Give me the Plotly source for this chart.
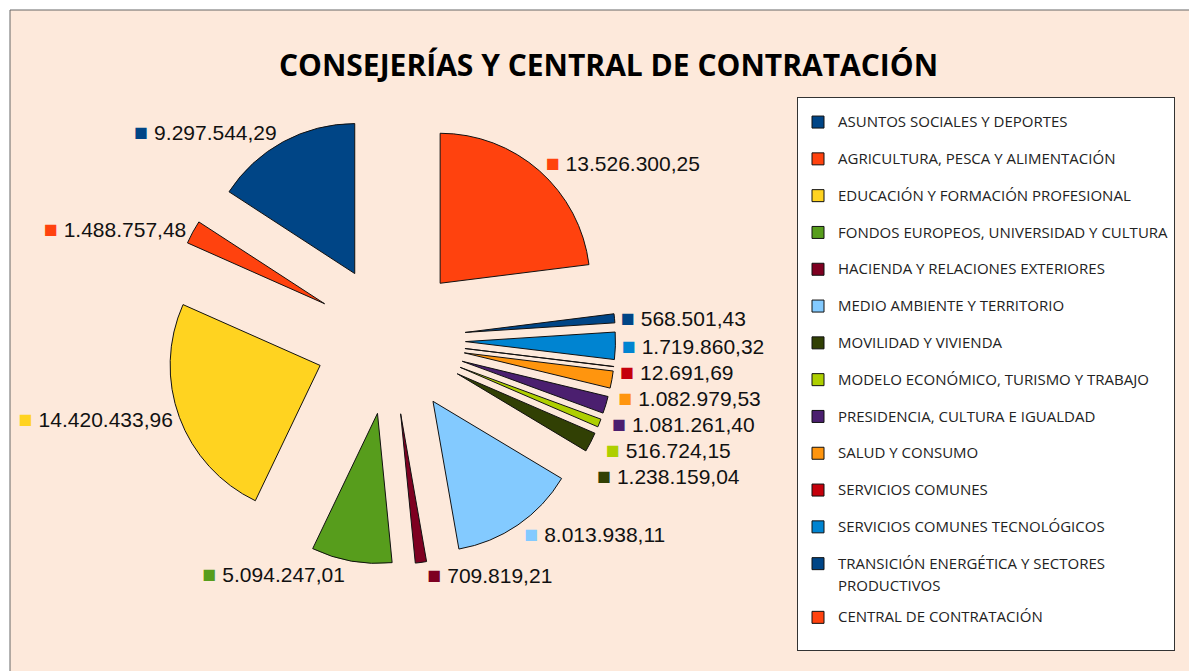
import plotly.graph_objects as go

categories = [
    "ASUNTOS SOCIALES Y DEPORTES",
    "AGRICULTURA, PESCA Y ALIMENTACIÓN",
    "EDUCACIÓN Y FORMACIÓN PROFESIONAL",
    "FONDOS EUROPEOS, UNIVERSIDAD Y CULTURA",
    "HACIENDA Y RELACIONES EXTERIORES",
    "MEDIO AMBIENTE Y TERRITORIO",
    "MOVILIDAD Y VIVIENDA",
    "MODELO ECONÓMICO, TURISMO Y TRABAJO",
    "PRESIDENCIA, CULTURA E IGUALDAD",
    "SALUD Y CONSUMO",
    "SERVICIOS COMUNES",
    "SERVICIOS COMUNES TECNOLÓGICOS",
    "TRANSICIÓN ENERGÉTICA Y SECTORES<br>PRODUCTIVOS",
    "CENTRAL DE CONTRATACIÓN",
]
values = [
    9297544.29, 1488757.48, 14420433.96, 5094247.01, 709819.21,
    8013938.11, 1238159.04, 516724.15, 1081261.40, 1082979.53,
    12691.69, 1719860.32, 568501.43, 13526300.25,
]
colors = [
    "#004586", "#FF420E", "#FFD320", "#579D1C", "#7E0021", "#83CAFF",
    "#314004", "#AECF00", "#4B1F6F", "#FF950E", "#C5000B", "#0084D1",
    "#004586", "#FF420E",
]
title_text = "CONSEJERÍAS Y CENTRAL DE CONTRATACIÓN"

W, H = 1197, 671
OFF = 8  # page body margin offset
BG = "#FDE9DB"

# first slice must start at 12 o'clock and run counterclockwise
rotation = -360.0 * values[0] / sum(values)


def legend_text(name):
    lines = name.split("<br>")
    out = [f"<span style='font-size:15px'>{lines[0]}</span>"]
    for ln in lines[1:]:
        out.append(f"<span style='font-size:15px;baseline-shift:-5px'>{ln}</span>")
    return "<br>".join(out) + "<br> "


legend_labels = [legend_text(c) for c in categories]
templates = [
    f"<span style='color:{c};fill-opacity:1;font-size:23px'>■</span>"
    f"<span style='color:#111111;fill-opacity:1'> %{{value:,.2f}}</span>"
    for c in colors
]

cx, cy, half = 390.5 - OFF, 339.5 - OFF, 225.0

fig = go.Figure(go.Pie(
    labels=legend_labels,
    values=values,
    sort=False,
    direction="counterclockwise",
    rotation=rotation,
    pull=[0.5] * len(values),
    marker=dict(colors=colors, line=dict(color="#111111", width=1)),
    textposition="outside",
    texttemplate=templates,
    textfont=dict(family="Liberation Sans", size=21, color="rgba(0,0,0,0)"),
    hoverinfo="value",
    domain=dict(x=[(cx - half) / W, (cx + half) / W],
                y=[1 - (cy + half) / H, 1 - (cy - half) / H]),
))

fig.add_shape(
    type="rect", xref="paper", yref="paper",
    x0=(10 - OFF) / W, x1=1.02, y0=-0.02, y1=1 - (10 - OFF) / H,
    fillcolor=BG, line=dict(color="#666666", width=1), layer="below",
)

fig.update_layout(
    width=W, height=H,
    margin=dict(l=0, r=0, t=0, b=0, autoexpand=False),
    paper_bgcolor="white",
    separators=",.",
    title=dict(
        text=f"<b>{title_text}</b>",
        x=(608.5 - OFF) / W, xref="container", xanchor="center",
        y=1 - (65 - OFF) / H, yref="container", yanchor="middle",
        font=dict(family="Open Sans", size=30, color="#000000"),
    ),
    legend=dict(
        x=(797 - OFF) / W, y=1 - (97 - OFF) / H, xanchor="left", yanchor="top",
        bgcolor="white", bordercolor="#333333", borderwidth=1,
        font=dict(family="Open Sans", size=13, color="#222222"),
        valign="top", traceorder="normal", maxheight=620,
        title=dict(text="&nbsp;", font=dict(size=7)),
    ),
)

fig.write_html("out.html")
